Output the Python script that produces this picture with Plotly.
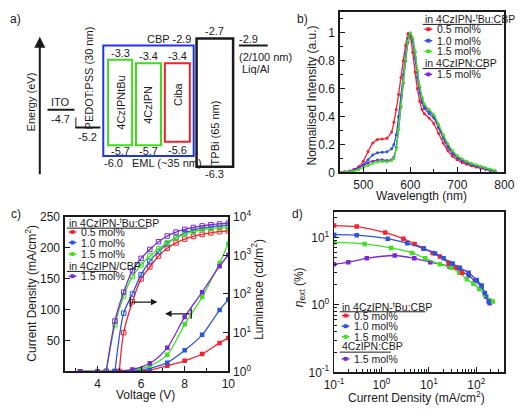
import plotly.graph_objects as go

W, H = 522, 412
INK = "#1a1a1a"
FONT = "Arial, Liberation Sans, sans-serif"
RED, BLUE, GREEN, PURPLE = "#f5222d", "#2b55e0", "#3fe021", "#7a2ad4"

# ---------------- a) energy levels (eV) ----------------
ito_level = -4.7
pedot_level = -5.2
cbp_levels = [-2.9, -6.0]
tbu_levels = [-3.3, -5.7]
czipn_levels = [-3.4, -5.7]
ciba_levels = [-3.4, -5.6]
tpbi_levels = [-2.7, -6.3]
liq_level = -2.9

# ---------------- b) EL spectra ----------------
wavelength = [450, 460, 470, 480, 490, 500, 510, 520, 530, 540, 550, 560, 565, 570, 575, 580, 585, 590,
              595, 600, 605, 610, 615, 620, 625, 630, 640, 650, 660, 670, 680, 690, 700, 710, 720, 730,
              740, 750, 760, 770, 780]
el_05 = [0.0, 0.003, 0.008, 0.02, 0.04, 0.08, 0.15, 0.21, 0.235, 0.24, 0.245, 0.29, 0.36, 0.45, 0.56,
         0.68, 0.8, 0.91, 0.995, 0.97, 0.86, 0.72, 0.6, 0.51, 0.45, 0.42, 0.39, 0.35, 0.28, 0.21, 0.155,
         0.115, 0.09, 0.07, 0.058, 0.047, 0.038, 0.03, 0.022, 0.014, 0.008]
el_10 = [0.0, 0.002, 0.006, 0.015, 0.03, 0.055, 0.09, 0.125, 0.14, 0.145, 0.148, 0.17, 0.2, 0.27, 0.4,
         0.55, 0.7, 0.85, 0.96, 0.995, 0.94, 0.82, 0.68, 0.57, 0.5, 0.46, 0.42, 0.39, 0.32, 0.245, 0.18,
         0.135, 0.105, 0.083, 0.068, 0.055, 0.045, 0.035, 0.025, 0.016, 0.008]
el_15 = [0.0, 0.002, 0.005, 0.01, 0.02, 0.035, 0.05, 0.065, 0.075, 0.078, 0.077, 0.085, 0.1, 0.17, 0.31,
         0.48, 0.65, 0.81, 0.94, 1.0, 0.965, 0.87, 0.73, 0.62, 0.54, 0.49, 0.45, 0.415, 0.345, 0.27, 0.205,
         0.155, 0.12, 0.097, 0.08, 0.066, 0.054, 0.044, 0.034, 0.024, 0.015]
el_ref = [0.0, 0.004, 0.01, 0.02, 0.035, 0.05, 0.068, 0.08, 0.088, 0.09, 0.086, 0.09, 0.11, 0.18, 0.31,
          0.47, 0.64, 0.8, 0.93, 0.99, 0.955, 0.86, 0.72, 0.61, 0.53, 0.48, 0.44, 0.405, 0.335, 0.26, 0.195,
          0.145, 0.113, 0.09, 0.074, 0.06, 0.049, 0.039, 0.029, 0.019, 0.01]

# ---------------- c) J-V-L ----------------
volt_j = [3.2, 4.0, 4.8, 5.6, 6.4, 7.2, 8.0, 8.8, 9.6, 10.0]
j_05 = [0, 0, 0, 0.5, 2, 9, 17, 28, 46, 54]
j_10 = [0, 0, 0, 1, 5, 14, 34, 59, 99, 116]
j_15 = [0, 0, 0.2, 2, 9, 27, 76, 120, 175, 206]
j_ref = [0, 0, 0.3, 3, 13, 38, 88, 128, 170, 188]

volt_l_05 = [5.0, 5.2, 5.6, 6.0, 6.4, 6.8, 7.2, 7.6, 8.0, 8.4, 8.8, 9.2, 9.6, 10.0]
lum_05 = [1, 10, 63, 245, 501, 955, 1514, 2089, 2630, 3090, 3467, 3802, 4074, 4266]
volt_l_10 = [4.8, 5.2, 5.6, 6.0, 6.4, 6.8, 7.2, 7.6, 8.0, 8.4, 8.8, 9.2, 9.6, 10.0]
lum_10 = [1, 32, 100, 316, 708, 1259, 1995, 2884, 3802, 4467, 5012, 5370, 5754, 6026]
volt_l_15 = [4.4, 4.8, 5.2, 5.6, 6.0, 6.4, 6.8, 7.2, 7.6, 8.0, 8.4, 8.8, 9.2, 9.6, 10.0]
lum_15 = [1, 16, 89, 282, 562, 955, 1479, 2138, 2818, 3548, 4169, 4571, 4898, 5129, 5248]
volt_l_ref = [4.4, 4.8, 5.2, 5.6, 6.0, 6.4, 6.8, 7.2, 7.6, 8.0, 8.4, 8.8, 9.2, 9.6, 10.0]
lum_ref = [1, 20, 112, 398, 832, 1413, 2239, 3162, 3981, 4677, 5248, 5754, 6166, 6457, 6761]

# ---------------- d) EQE vs J ----------------
jd_05 = [0.1, 0.3, 1.2, 2.9, 5.0, 7.6, 12, 17, 26, 37, 50]
eqe_05 = [15.0, 14.5, 11.8, 9.6, 8.0, 6.9, 5.9, 5.2, 4.2, 3.6, 3.0]
jd_10 = [0.1, 0.3, 1.35, 3.5, 7.8, 13.5, 20.4, 31.6, 44.7, 69, 102, 129, 151, 182]
eqe_10 = [11.0, 10.8, 9.6, 8.2, 6.8, 5.8, 4.9, 4.1, 3.55, 3.0, 2.33, 1.94, 1.5, 1.12]
jd_15 = [0.1, 0.44, 1.6, 4.4, 8.3, 17, 29.5, 43.7, 63, 87, 115, 151, 190, 224]
eqe_15 = [8.5, 8.0, 7.0, 5.9, 4.9, 4.0, 3.55, 3.0, 2.4, 2.05, 1.74, 1.4, 1.17, 1.12]
jd_ref = [0.1, 0.2, 0.49, 1.9, 4.9, 10.7, 27, 47, 69, 93, 129, 162, 191]
eqe_ref = [4.0, 4.3, 4.9, 5.4, 4.9, 4.3, 3.7, 3.16, 2.7, 2.28, 1.83, 1.32, 1.06]

legend_labels = ["0.5 mol%", "1.0 mol%", "1.5 mol%", "1.5 mol%"]
colors = [RED, BLUE, GREEN, PURPLE]


def px(x):
    return x / W


def py(y):
    return 1 - y / H


fig = go.Figure()

# ---- b traces
for ys, col in [(el_05, RED), (el_10, BLUE), (el_ref, PURPLE), (el_15, GREEN)]:
    fig.add_trace(go.Scatter(x=wavelength, y=ys, xaxis="x2", yaxis="y2", mode="lines+markers",
                             line=dict(color=col, width=1.3, shape="spline", smoothing=0.6),
                             marker=dict(size=3, color=col), showlegend=False))

# ---- c traces: current density (left axis)
for xs, ys, col in [(volt_j, j_05, RED), (volt_j, j_10, BLUE), (volt_j, j_15, GREEN), (volt_j, j_ref, PURPLE)]:
    fig.add_trace(go.Scatter(x=xs, y=ys, xaxis="x3", yaxis="y3", mode="lines+markers",
                             line=dict(color=col, width=1.3, shape="spline", smoothing=0.8),
                             marker=dict(size=4.5, color=col, symbol="square"), showlegend=False))
# luminance (right axis)
for xs, ys, col in [(volt_l_05, lum_05, RED), (volt_l_10, lum_10, BLUE), (volt_l_15, lum_15, GREEN),
                    (volt_l_ref, lum_ref, PURPLE)]:
    fig.add_trace(go.Scatter(x=xs, y=ys, xaxis="x3", yaxis="y4", mode="lines+markers",
                             line=dict(color=col, width=1.3, shape="spline", smoothing=0.8),
                             marker=dict(size=4.5, color=col, symbol="square-open", line=dict(width=1)),
                             showlegend=False))

# ---- d traces
for xs, ys, col in [(jd_ref, eqe_ref, PURPLE), (jd_15, eqe_15, GREEN), (jd_05, eqe_05, RED), (jd_10, eqe_10, BLUE)]:
    fig.add_trace(go.Scatter(x=xs, y=ys, xaxis="x4", yaxis="y5", mode="lines+markers",
                             line=dict(color=col, width=1.3, shape="spline", smoothing=0.8),
                             marker=dict(size=4.5, color=col, symbol="square"), showlegend=False))

shapes = []
annotations = []


def ann(text, x, y, size=11.5, angle=0, xanchor="center", yanchor="middle"):
    annotations.append(dict(text=text, x=px(x), y=py(y), xref="paper", yref="paper", showarrow=False,
                            font=dict(size=size, color=INK, family=FONT), textangle=angle,
                            xanchor=xanchor, yanchor=yanchor))


# ---------------- panel a drawing ----------------
def rect_a(x0, x1, levels, color, width):
    shapes.append(dict(type="rect", xref="x", yref="y", x0=x0, x1=x1, y0=levels[0], y1=levels[1],
                       line=dict(color=color, width=width), fillcolor="rgba(0,0,0,0)"))


def hline_a(x0, x1, level, width=2):
    shapes.append(dict(type="line", xref="x", yref="y", x0=x0, x1=x1, y0=level, y1=level,
                       line=dict(color=INK, width=width)))


def lab_a(text, x, level, dy, size=11, angle=0):
    annotations.append(dict(text=text, x=x, y=level, xref="x", yref="y", yshift=dy, showarrow=False,
                            font=dict(size=size, color=INK, family=FONT), textangle=angle,
                            xanchor="center", yanchor="middle"))


def fmt(v):
    return f"{v:.1f}"


hline_a(39, 67, ito_level)
lab_a("ITO", 53, ito_level, 8)
lab_a(fmt(ito_level), 53, ito_level, -9)
hline_a(68, 94, pedot_level)
shapes.append(dict(type="line", xref="x", yref="y", x0=68.5, x1=68.5, y0=pedot_level, y1=pedot_level + 0.28,
                   line=dict(color=INK, width=1)))
lab_a(fmt(pedot_level), 81, pedot_level, -9)
lab_a("PEDOT:PSS (30 nm)", 82, pedot_level, 50, angle=-90)

rect_a(97, 191, cbp_levels, "#1f35e8", 2)
rect_a(102, 127, tbu_levels, "#3fdc1c", 2)
rect_a(131, 157, czipn_levels, "#3fdc1c", 2)
rect_a(161, 187, ciba_levels, "#ec2424", 2)
rect_a(194, 232, tpbi_levels, INK, 2.5)
hline_a(238, 268, liq_level)

annotations.append(dict(text="CBP " + fmt(cbp_levels[0]), x=190, y=cbp_levels[0], xref="x", yref="y",
                        yshift=7, showarrow=False, xanchor="right", yanchor="middle",
                        font=dict(size=11, color=INK, family=FONT)))
lab_a(fmt(tbu_levels[0]), 114.5, tbu_levels[0], 7)
lab_a(fmt(czipn_levels[0]), 144, czipn_levels[0], 7)
lab_a(fmt(ciba_levels[0]), 174, ciba_levels[0], 7)
lab_a(fmt(tbu_levels[1]), 114.5, tbu_levels[1], -6)
lab_a(fmt(czipn_levels[1]), 144, czipn_levels[1], -6)
lab_a(fmt(ciba_levels[1]), 174, ciba_levels[1], -8)
lab_a(fmt(cbp_levels[1]), 108, cbp_levels[1], -7)
annotations.append(dict(text="EML (~35 nm)", x=125, y=cbp_levels[1], xref="x", yref="y", yshift=-7,
                        showarrow=False, xanchor="left", yanchor="middle",
                        font=dict(size=11, color=INK, family=FONT)))
lab_a(fmt(tpbi_levels[0]), 213, tpbi_levels[0], 7)
lab_a(fmt(tpbi_levels[1]), 213, tpbi_levels[1], -7)
lab_a(fmt(liq_level), 248, liq_level, 7)
lab_a("(2/100 nm)", 266, liq_level, -11)
lab_a("Liq/Al", 256, liq_level, -23)
lab_a("4CzIPNtBu", 114.5, (tbu_levels[0] + tbu_levels[1]) / 2, 0, angle=-90)
lab_a("4CzIPN", 144, (czipn_levels[0] + czipn_levels[1]) / 2, 0, angle=-90)
lab_a("Ciba", 174, (ciba_levels[0] + ciba_levels[1]) / 2, 9, angle=-90)
lab_a("TPBi (65 nm)", 213, (tpbi_levels[0] + tpbi_levels[1]) / 2, -30, angle=-90)

ann("Energy (eV)", 22, 97, size=11, angle=-90)
annotations.append(dict(text="", x=px(31), y=py(29), xref="paper", yref="paper", ax=0, ay=139,
                        showarrow=True, arrowhead=2, arrowsize=1.1, arrowwidth=2, arrowcolor=INK))

# panel letters
ann("a)", 6, 10, size=12)
ann("b)", 304, 10, size=12)
ann("c)", 6, 213, size=12)
ann("d)", 299, 213, size=12)

# axis titles
ann("Wavelength (nm)", 428, 195, size=12)
ann("Normalised Intensity (a.u.)", 313, 90, size=12, angle=-90)
ann("Voltage (V)", 141, 402, size=12)
ann("Current Density (mA/cm<sup>2</sup>)", 21, 296, size=12, angle=-90)
ann("Luminance (cd/m<sup>2</sup>)", 257, 292, size=12, angle=-90)
ann("Current Density (mA/cm<sup>2</sup>)", 423, 404, size=12)
ann("<i>η</i><sub>ext</sub> (%)", 301, 289, size=12, angle=-90)


# ---------------- legends ----------------
LFS = 10.5


def legend_block(x0, y_head1, y_rows, y_head2, y_row2, head1, head2, ul1, ul2, key_len=8):
    ann(head1, x0, y_head1, size=LFS, xanchor="left")
    shapes.append(dict(type="line", xref="paper", yref="paper", x0=px(x0), x1=px(x0 + ul1),
                       y0=py(y_head1 + 6), y1=py(y_head1 + 6), line=dict(color=INK, width=1)))
    ann(head2, x0, y_head2, size=LFS, xanchor="left")
    shapes.append(dict(type="line", xref="paper", yref="paper", x0=px(x0), x1=px(x0 + ul2),
                       y0=py(y_head2 + 6), y1=py(y_head2 + 6), line=dict(color=INK, width=1)))
    ys = list(y_rows) + [y_row2]
    for yy, col, lab in zip(ys, colors, legend_labels):
        kx0 = x0 + 2
        shapes.append(dict(type="line", xref="paper", yref="paper", x0=px(kx0), x1=px(kx0 + key_len),
                           y0=py(yy), y1=py(yy), line=dict(color=col, width=1.5)))
        cx = kx0 + key_len / 2
        shapes.append(dict(type="rect", xref="paper", yref="paper", x0=px(cx - 2), x1=px(cx + 2),
                           y0=py(yy + 2), y1=py(yy - 2), line=dict(color=col, width=0), fillcolor=col))
        ann(lab, kx0 + key_len + 3, yy, size=LFS, xanchor="left")


head_tbu = "in 4CzIPN-<sup>t</sup>Bu:CBP"
legend_block(429, 10, [21, 33, 44], 56, 68, head_tbu, "in 4CzIPN:CBP", 83, 66)
legend_block(59, 222, [232, 243, 255], 267, 278, head_tbu, "in 4CzIPN/CBP", 84, 52)
legend_block(343, 309, [319, 330, 341], 351, 364, head_tbu, "4CzIPN:CBP", 89, 53)

# arrows in c
annotations.append(dict(text="", x=6.75, y=112, ax=5.5, ay=112, xref="x3", yref="y3", axref="x3", ayref="y3",
                        showarrow=True, arrowhead=2, arrowsize=1, arrowwidth=1.3, arrowcolor=INK))
annotations.append(dict(text="", x=7.1, y=93, ax=8.3, ay=93, xref="x3", yref="y3", axref="x3", ayref="y3",
                        showarrow=True, arrowhead=2, arrowsize=1, arrowwidth=1.3, arrowcolor=INK))
for xv, yv in [(5.5, 112), (8.3, 93)]:
    shapes.append(dict(type="line", xref="x3", yref="y3", x0=xv, x1=xv, y0=yv - 8, y1=yv + 8,
                       line=dict(color=INK, width=1.3)))

# ---------------- axes ----------------
common = dict(showline=True, linecolor=INK, linewidth=1.4, mirror=True, ticks="inside", ticklen=5,
              tickcolor=INK, tickwidth=1, showgrid=False, zeroline=False,
              tickfont=dict(size=12, color=INK, family=FONT), ticklabelstandoff=1)

log_lab = {-1: "10<sup>-1</sup>", 0: "10<sup>0</sup>", 1: "10<sup>1</sup>", 2: "10<sup>2</sup>",
           3: "10<sup>3</sup>", 4: "10<sup>4</sup>"}

fig.update_layout(
    width=W, height=H, autosize=False, margin=dict(l=0, r=0, t=0, b=0),
    paper_bgcolor="white", plot_bgcolor="rgba(0,0,0,0)", showlegend=False,
    font=dict(family=FONT, color=INK, size=12),
    xaxis=dict(domain=[0, 300 / W], range=[0, 300], visible=False, anchor="y"),
    yaxis=dict(domain=[py(206), 1], range=[-7.428, -1.876], visible=False, anchor="x"),
    xaxis2=dict(common, domain=[px(343), px(514)], range=[450, 800], dtick=100, tick0=500, anchor="y2",
                minor=dict(ticks="inside", ticklen=3, dtick=50, tick0=450, tickcolor=INK)),
    yaxis2=dict(common, domain=[py(170), py(3)], range=[0, 1.15], dtick=0.2, anchor="x2",
                minor=dict(ticks="inside", ticklen=3, dtick=0.1, tickcolor=INK)),
    xaxis3=dict(common, domain=[px(57), px(227)], range=[2.5, 10], dtick=2, tick0=0, anchor="y3",
                minor=dict(ticks="inside", ticklen=3, dtick=1, tick0=1, tickcolor=INK)),
    yaxis3=dict(common, domain=[py(377), py(216)], range=[0, 250], tickvals=[50, 100, 150, 200, 250],
                anchor="x3"),
    yaxis4=dict(common, overlaying="y3", side="right", anchor="x3", type="log", range=[0, 4],
                mirror=False, tickvals=[1, 10, 100, 1000, 10000], ticktext=[log_lab[i] for i in range(5)]),
    xaxis4=dict(common, domain=[px(337), px(514)], type="log", range=[-1, 2.59], anchor="y5",
                tickvals=[0.1, 1, 10, 100], ticktext=[log_lab[i] for i in range(-1, 3)],
                minor=dict(ticks="inside", ticklen=3, dtick="D1", tickcolor=INK)),
    yaxis5=dict(common, domain=[py(378), py(211)], type="log", range=[-1, 1.38], anchor="x4",
                tickvals=[0.1, 1, 10], ticktext=[log_lab[i] for i in range(-1, 2)],
                minor=dict(ticks="inside", ticklen=3, dtick="D1", tickcolor=INK)),
    shapes=shapes, annotations=annotations,
)

fig.write_html("out.html", config={"displayModeBar": False, "staticPlot": True},
               post_script="document.body.style.margin='0';document.body.style.padding='0';")
